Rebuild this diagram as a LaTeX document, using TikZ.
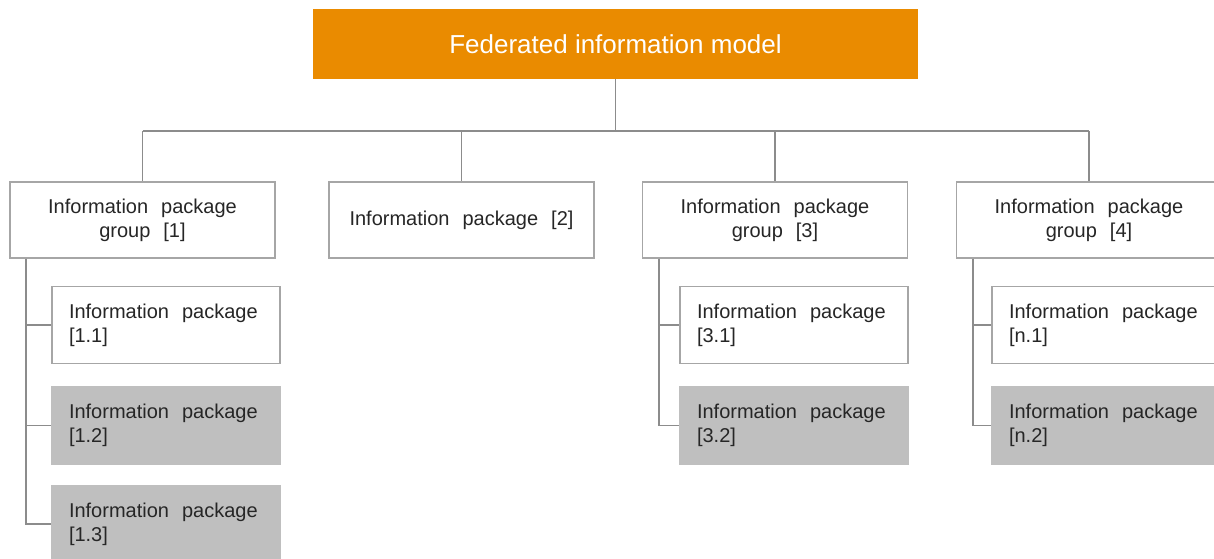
\documentclass[tikz,border=0pt]{standalone}
\usepackage{fontspec}
\setmainfont{Liberation Sans}
\definecolor{topfill}{HTML}{EA8B00}
\definecolor{boxline}{HTML}{A6A6A6}
\definecolor{connline}{HTML}{8C8C8C}
\definecolor{greyfill}{HTML}{BFBFBF}
\definecolor{txt}{HTML}{262626}
\newcommand{\boxtextfont}{\fontsize{20pt}{24pt}\selectfont\spaceskip=13pt plus 2pt minus 1pt\relax}
\begin{document}
\begin{tikzpicture}[x=1pt,y=-1pt,
  topbox/.style={fill=topfill, draw=none, inner sep=0pt,
    minimum width=605pt, minimum height=70pt, text=white,
    font=\fontsize{26pt}{30pt}\selectfont},
  groupbox/.style={draw=boxline, line width=1.8pt, fill=white, inner xsep=12pt, inner ysep=0pt,
    minimum width=265pt, minimum height=76pt, text=txt, align=center,
    font=\boxtextfont},
  itembox/.style={draw=boxline, line width=1.8pt, fill=white, inner xsep=17pt, inner ysep=0pt,
    text width=194pt, minimum height=77pt, text=txt, align=left,
    font=\boxtextfont,
    execute at begin node={\spaceskip=13pt plus 2pt minus 1pt\relax}},
  greybox/.style={itembox, fill=greyfill, draw=greyfill},
  conn/.style={draw=connline, line width=1.8pt}]
\useasboundingbox (0,0) rectangle (1214,558);
\clip (0,0) rectangle (1214,558);

% root
\node[topbox] (fim) at (615.5,44) {Federated information model};

% second level
\node[groupbox] (g1) at (142.5,220) {Information package\\group [1]};
\node[groupbox] (g2) at (461.5,220) {Information package [2]};
\node[groupbox] (g3) at (775,220) {Information package\\group [3]};
\node[groupbox] (g4) at (1089,220) {Information package\\group [4]};

% packages of group 1
\node[itembox] (c11) at (166,325) {Information package\\{}[1.1]};
\node[greybox] (c12) at (166,425.5) {Information package\\{}[1.2]};
\node[greybox] (c13) at (166,524) {Information package\\{}[1.3]};

% packages of group 3
\node[itembox] (c31) at (794,325) {Information package\\{}[3.1]};
\node[greybox] (c32) at (794,425.5) {Information package\\{}[3.2]};

% packages of group 4
\node[itembox] (c41) at (1106,325) {Information package\\{}[n.1]};
\node[greybox] (c42) at (1106,425.5) {Information package\\{}[n.2]};

% bus from the root to the second level
\coordinate (bus) at (0,131);
\draw[conn] (fim.south) -- (fim.south |- bus);
\draw[conn] (g1.north |- bus) -- (g4.north |- bus);
\foreach \g in {g1,g2,g3,g4}
  \draw[conn] (\g.north |- bus) -- (\g.north);

% group to package connectors
\foreach \g/\c in {g1/c11,g1/c12,g1/c13,g3/c31,g3/c32,g4/c41,g4/c42}
  \draw[conn] ([xshift=17pt]\g.south west) |- (\c.west);
\end{tikzpicture}
\end{document}
